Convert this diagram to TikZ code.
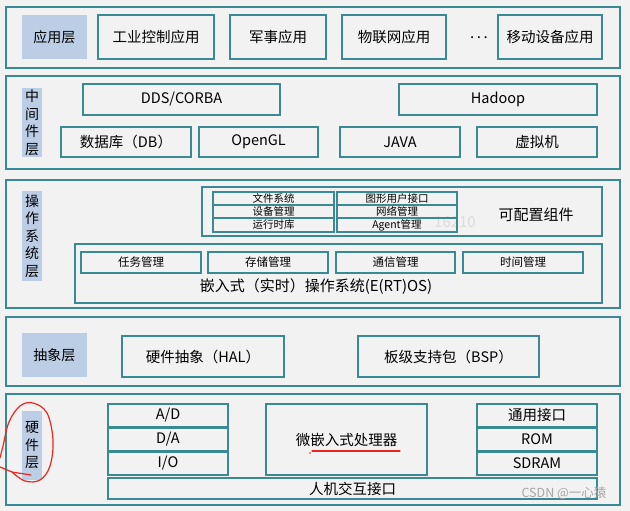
\documentclass[tikz,border=0pt]{standalone}
\usepackage{fontspec}
\setmainfont{Noto Sans CJK SC}
\definecolor{ln}{HTML}{3A8A93}
\definecolor{lab}{HTML}{BCCEE6}
\definecolor{bg}{HTML}{F2F2F2}
\definecolor{redmk}{HTML}{E8281E}
\tikzset{
  box/.style={draw=ln, line width=1.4pt, inner sep=0pt, outer sep=0pt, align=center, font=\fontsize{14.5}{17}\selectfont},
  layerbox/.style={box, line width=1.6pt},
  labbox/.style={fill=lab, draw=none, inner sep=0pt, outer sep=0pt, align=center, font=\fontsize{14}{17.5}\selectfont},
  cell/.style={box, line width=1.6pt, font=\fontsize{10.5}{12}\selectfont},
  small/.style={box, font=\fontsize{11.5}{13}\selectfont},
  redline/.style={draw=redmk, line width=1.2pt, line cap=round, line join=round}
}
\newcommand\bx[7][]{%
  \pgfmathsetmacro\mybw{#5-#3}\pgfmathsetmacro\mybh{#6-#4}%
  \node[#1, minimum width=\mybw pt, minimum height=\mybh pt] (#2) at ({(#3+#5)/2},{(#4+#6)/2}) {#7};}
\begin{document}
\begin{tikzpicture}[x=1pt,y=-1pt]
\useasboundingbox (0,0) rectangle (630,511);
\fill[bg] (0,0) rectangle (630,511);
% layers
\bx[layerbox]{L1}{6}{7}{620}{68}{}
\bx[layerbox]{L2}{6}{76}{620}{169}{}
\bx[layerbox]{L3}{6}{180}{620}{308}{}
\bx[layerbox]{L4}{6}{317}{620}{386}{}
\bx[layerbox]{L5}{6}{394}{620}{505}{}
% application layer
\bx[labbox]{app}{22}{15}{87}{59}{应用层}
\bx[box]{a1}{98}{15}{214}{59}{工业控制应用}
\bx[box]{a2}{230}{15}{326}{59}{军事应用}
\bx[box]{a3}{342}{15}{446}{59}{物联网应用}
\node[font=\fontsize{15}{17}\selectfont] (dots) at (479,38) {.\hspace{2.5pt}.\hspace{2.5pt}.};
\bx[box]{a4}{498}{15}{602}{59}{移动设备应用}
% middleware
\bx[labbox]{mid}{22}{88}{42}{157}{中\\间\\件\\层}
\bx[box]{dds}{83}{84}{280}{115}{DDS/CORBA}
\bx[box]{had}{399}{84}{597}{115}{Hadoop}
\bx[box]{db}{61}{127}{191}{157}{数据库（DB）}
\bx[box]{gl}{199}{127}{318}{157}{OpenGL}
\bx[box]{java}{340}{127}{460}{157}{JAVA}
\bx[box]{vm}{477}{127}{597}{157}{虚拟机}
% OS layer
\bx[labbox]{os}{22}{191}{42}{281}{操\\作\\系\\统\\层}
\bx[box]{cfg}{202}{187}{602}{236}{}
\node[font=\fontsize{15}{17}\selectfont] (cfgt) at (536,215) {可配置组件};
\node[font=\fontsize{15}{17}\selectfont\rmfamily, text=black!14] (wm1) at (455,222) {16210};
\bx[cell]{c1}{213}{192}{334}{205}{文件系统}
\bx[cell]{c2}{213}{205}{334}{218}{设备管理}
\bx[cell]{c3}{213}{218}{334}{232}{运行时库}
\bx[cell]{c4}{337}{192}{457}{205}{图形用户接口}
\bx[cell]{c5}{337}{205}{457}{218}{网络管理}
\bx[cell]{c6}{337}{218}{457}{232}{Agent管理}
\bx[box]{rtos}{75}{244}{602}{303}{}
\node[font=\fontsize{15}{17}\selectfont] (rtost) at (316,287) {嵌入式（实时）操作系统(E(RT)OS)};
\bx[small]{t1}{81}{252}{201}{273}{任务管理}
\bx[small]{t2}{208}{252}{328}{273}{存储管理}
\bx[small]{t3}{336}{252}{455}{273}{通信管理}
\bx[small]{t4}{463}{252}{583}{273}{时间管理}
% abstraction layer
\bx[labbox]{abs}{22}{333}{87}{377}{抽象层}
\bx[box]{hal}{122}{336}{284}{377}{硬件抽象（HAL）}
\bx[box]{bsp}{358}{336}{539}{377}{板级支持包（BSP）}
% hardware layer
\bx[labbox]{hw}{22}{411}{42}{480}{硬\\件\\层}
\bx[box]{ad}{108}{404}{228}{427}{A/D}
\bx[box]{da}{108}{428}{228}{451}{D/A}
\bx[box]{io}{108}{452}{228}{475}{I/O}
\bx[box]{cpu}{266}{404}{427}{475}{微嵌入式处理器}
\bx[box]{gen}{477}{404}{597}{427}{通用接口}
\bx[box]{rom}{477}{428}{597}{451}{ROM}
\bx[box]{ram}{477}{452}{597}{475}{SDRAM}
\bx[box]{hmi}{108}{478}{597}{499}{人机交互接口}
% hand-drawn red marks
\draw[redline] (31,475) -- (12,472) -- (0,467);
\draw[redline] plot[smooth, tension=0.6] coordinates {(12,472) (25,481) (40,480) (50,466) (53,440) (47,413) (33,403) (20,406) (9,422) (3,446) (0,458)};
\draw[redline] (312,451) -- (400,451);
\fill[redmk] (310,453) circle (0.9);
% watermark
\node[font=\fontsize{12.5}{14}\selectfont, text=black!35] (wm2) at (564,493) {CSDN @一心猿};
\end{tikzpicture}
\end{document}
